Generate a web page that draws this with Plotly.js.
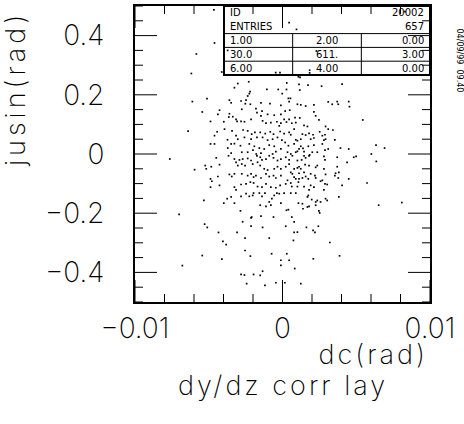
<!DOCTYPE html>
<html>
<head>
<meta charset="utf-8">
<script src="https://cdn.plot.ly/plotly-3.0.1.min.js"></script>
<style>
html,body{margin:0;padding:0;background:#fff;}
#chart{width:464px;height:424px;}
g.annotation[data-index="0"] text { letter-spacing: 4px; }
g.annotation[data-index="1"] text,
g.annotation[data-index="2"] text { letter-spacing: 3px; }
</style>
</head>
<body>
<div id="chart"></div>
<script>
// dc (rad) and jusin (rad) values, grouped by region
const dcTop = [-4.65e-3,-4.61e-3,-5.84e-3,-4.12e-3,-3.72e-3,0.45e-3,0.95e-3,2.30e-3,-0.46e-3,-0.17e-3,1.19e-3,1.84e-3,1.84e-3,8.30e-3];
const jsTop = [0.487,0.375,0.338,0.277,0.350,0.444,0.421,0.348,0.275,0.275,0.259,0.283,0.274,0.481];

const dcUL = [-6.18e-3,-3.03e-3,-2.29e-3,-3.26e-3,-2.20e-3,-2.25e-3,-2.36e-3,-0.29e-3,-0.02e-3,-1.06e-3,
  -5.12e-3,-6.11e-3,-3.60e-3,-3.48e-3,-2.81e-3,-2.47e-3,-2.18e-3,-2.52e-3,-1.46e-3,-0.85e-3,
  -0.11e-3,-5.44e-3,-4.27e-3,-4.38e-3,-3.60e-3,-3.64e-3,-2.76e-3,-1.80e-3,-1.73e-3,-1.39e-3,
  -1.46e-3,-1.01e-3,-0.56e-3,-0.11e-3,-4.88e-3,-3.98e-3,-3.37e-3,-3.15e-3,-3.08e-3,-2.81e-3,
  -2.58e-3,-2.13e-3,-1.35e-3,-1.12e-3,-0.79e-3,-0.38e-3,-0.11e-3,-0.22e-3,-6.40e-3,-4.43e-3,
  -3.93e-3,-3.42e-3,-2.67e-3,-2.36e-3,-2.09e-3,-1.87e-3,-1.51e-3,-1.17e-3,-0.83e-3,-0.61e-3,
  -0.16e-3,-4.61e-3,-3.73e-3,-3.15e-3,-3.03e-3,-2.58e-3,-2.13e-3,-1.73e-3,-1.35e-3,-1.01e-3,
  -0.67e-3,-0.34e-3,-0.04e-3,-4.88e-3,-4.61e-3,-3.48e-3,-3.26e-3,-3.71e-3,-2.85e-3,-2.25e-3,
  -1.91e-3,-2.00e-3,-1.57e-3,-1.24e-3,-0.90e-3,-0.56e-3,-0.11e-3,-3.48e-3,-2.76e-3,-2.36e-3,
  -1.78e-3,-1.46e-3,-0.67e-3,-0.45e-3];
const jsUL = [0.272,0.238,0.244,0.224,0.211,0.204,0.196,0.218,0.204,0.218,
  0.187,0.177,0.182,0.173,0.179,0.182,0.168,0.170,0.173,0.170,
  0.164,0.142,0.148,0.134,0.136,0.125,0.151,0.153,0.140,0.145,
  0.129,0.134,0.131,0.134,0.110,0.109,0.126,0.117,0.110,0.110,
  0.109,0.117,0.112,0.104,0.106,0.109,0.104,0.095,0.077,0.075,
  0.084,0.078,0.081,0.078,0.067,0.073,0.073,0.069,0.075,0.067,
  0.076,0.062,0.048,0.062,0.050,0.056,0.050,0.056,0.056,0.047,
  0.050,0.056,0.047,0.034,0.034,0.034,0.035,0.020,0.028,0.034,
  0.026,0.013,0.020,0.017,0.030,0.026,0.017,0.003,0.006,0.006,
  0.000,0.003,0.000,0.008];

const dcUR = [1.08e-3,0.29e-3,1.12e-3,1.73e-3,2.65e-3,4.04e-3,0.27e-3,1.17e-3,0.40e-3,0.54e-3,
  0.45e-3,1.01e-3,1.24e-3,1.57e-3,2.13e-3,3.10e-3,3.37e-3,3.71e-3,3.78e-3,4.49e-3,
  4.54e-3,0.18e-3,0.49e-3,2.13e-3,0.11e-3,0.45e-3,0.85e-3,1.17e-3,2.25e-3,2.47e-3,
  0.63e-3,0.90e-3,0.27e-3,5.44e-3,1.46e-3,1.69e-3,0.79e-3,2.92e-3,3.10e-3,3.42e-3,
  0.11e-3,0.45e-3,0.56e-3,1.35e-3,1.57e-3,1.80e-3,2.07e-3,2.52e-3,2.70e-3,2.88e-3,
  0.90e-3,1.01e-3,1.24e-3,1.91e-3,2.13e-3,2.81e-3,2.92e-3,3.55e-3,0.18e-3,0.40e-3,
  0.79e-3,1.24e-3,1.12e-3,1.39e-3,1.75e-3,2.13e-3,2.70e-3,2.88e-3,3.10e-3,3.93e-3,
  4.49e-3,6.34e-3,6.92e-3,0.34e-3,0.56e-3,0.90e-3,1.01e-3,1.46e-3,1.84e-3,2.02e-3,
  2.36e-3,2.81e-3,3.71e-3,4.83e-3,4.99e-3,6.02e-3];
const jsUR = [0.261,0.240,0.235,0.233,0.229,0.236,0.218,0.216,0.188,0.188,
  0.177,0.168,0.166,0.162,0.166,0.176,0.168,0.177,0.168,0.177,
  0.160,0.145,0.148,0.142,0.117,0.117,0.123,0.122,0.129,0.115,
  0.104,0.106,0.108,0.115,0.097,0.093,0.084,0.093,0.084,0.081,
  0.069,0.073,0.065,0.067,0.064,0.070,0.065,0.075,0.062,0.065,
  0.048,0.045,0.050,0.050,0.054,0.047,0.050,0.048,0.039,0.028,
  0.034,0.026,0.017,0.019,0.026,0.030,0.034,0.013,0.017,0.020,
  0.017,0.030,0.020,0.006,0.000,0.006,0.009,0.008,-0.003,0.006,
  0.006,-0.008,-0.011,-0.011,-0.008,0.000];

const dcLL = [-7.64e-3,-4.49e-3,-3.66e-3,-3.26e-3,-2.92e-3,-2.70e-3,-2.36e-3,-2.13e-3,-1.73e-3,-1.51e-3,-1.39e-3,-1.12e-3,-0.90e-3,-0.61e-3,-0.34e-3,-0.11e-3,
  -5.96e-3,-5.24e-3,-5.17e-3,-4.83e-3,-4.27e-3,-3.15e-3,-3.03e-3,-2.76e-3,-2.54e-3,-2.02e-3,-1.69e-3,-1.51e-3,-1.24e-3,-1.01e-3,-0.56e-3,-0.34e-3,-0.11e-3,
  -4.88e-3,-4.79e-3,-4.38e-3,-3.60e-3,-3.44e-3,-3.26e-3,-2.76e-3,-2.36e-3,-2.13e-3,-1.96e-3,-1.80e-3,-1.46e-3,-1.12e-3,-0.90e-3,-0.61e-3,-0.45e-3,-0.11e-3,
  -4.88e-3,-4.27e-3,-3.26e-3,-3.15e-3,-2.81e-3,-2.47e-3,-2.18e-3,-1.96e-3,-1.69e-3,-1.39e-3,-1.12e-3,-0.79e-3,-0.45e-3,-0.16e-3,
  -5.33e-3,-3.98e-3,-3.75e-3,-3.48e-3,-3.26e-3,-2.81e-3,-2.47e-3,-2.25e-3,-2.02e-3,-1.96e-3,-1.57e-3,-1.39e-3,-1.19e-3,-0.90e-3,-0.72e-3,-0.56e-3,-0.38e-3,-0.22e-3,-0.11e-3,-1.51e-3,-1.12e-3,-0.79e-3,
  -7.01e-3,-2.85e-3,-2.09e-3,-2.13e-3,-1.46e-3,-0.61e-3,
  -5.28e-3,-5.10e-3,-2.70e-3,-2.13e-3,-1.35e-3];
const jsLL = [-0.017,-0.013,-0.006,-0.017,-0.020,-0.017,-0.015,-0.022,-0.006,-0.011,-0.020,-0.017,-0.006,-0.013,-0.022,-0.017,
  -0.053,-0.039,-0.050,-0.043,-0.036,-0.028,-0.039,-0.034,-0.039,-0.034,-0.028,-0.039,-0.050,-0.054,-0.050,-0.043,-0.050,
  -0.084,-0.092,-0.076,-0.069,-0.076,-0.067,-0.067,-0.073,-0.067,-0.078,-0.073,-0.081,-0.067,-0.076,-0.073,-0.081,-0.073,
  -0.112,-0.106,-0.112,-0.121,-0.103,-0.101,-0.095,-0.098,-0.110,-0.112,-0.101,-0.112,-0.114,-0.106,
  -0.157,-0.166,-0.151,-0.145,-0.166,-0.143,-0.134,-0.143,-0.140,-0.132,-0.132,-0.143,-0.132,-0.162,-0.151,-0.140,-0.132,-0.134,-0.166,-0.173,-0.177,-0.173,
  -0.204,-0.192,-0.213,-0.216,-0.210,-0.213,
  -0.237,-0.248,-0.229,-0.244,-0.248];

const dcLR = [0.22e-3,0.67e-3,1.46e-3,1.57e-3,1.80e-3,1.30e-3,0.45e-3,1.01e-3,2.88e-3,4.38e-3,6.36e-3,
  0.45e-3,0.22e-3,0.79e-3,1.01e-3,1.12e-3,1.24e-3,1.80e-3,1.53e-3,2.25e-3,2.36e-3,2.81e-3,3.71e-3,3.82e-3,
  0.56e-3,0.67e-3,1.12e-3,1.46e-3,1.91e-3,2.20e-3,0.79e-3,0.90e-3,1.12e-3,1.35e-3,1.57e-3,1.75e-3,2.25e-3,3.60e-3,3.55e-3,3.78e-3,4.49e-3,2.92e-3,
  0.22e-3,0.34e-3,0.56e-3,1.08e-3,0.63e-3,1.01e-3,1.46e-3,1.91e-3,2.13e-3,1.80e-3,2.58e-3,2.70e-3,2.88e-3,3.03e-3,2.81e-3,4.04e-3,5.73e-3,
  0.11e-3,0.56e-3,0.90e-3,1.75e-3,1.69e-3,1.98e-3,2.36e-3,2.25e-3,2.58e-3,2.92e-3,3.03e-3,3.82e-3,
  1.08e-3,1.35e-3,1.80e-3,1.39e-3,1.69e-3,2.25e-3,2.47e-3,2.52e-3,6.52e-3,8.09e-3,
  0.27e-3,0.40e-3,0.63e-3,0.79e-3,0.22e-3,1.62e-3,2.43e-3];
const jsLR = [-0.011,-0.006,-0.006,-0.013,-0.006,-0.020,-0.020,-0.022,-0.020,-0.028,-0.025,
  -0.034,-0.043,-0.050,-0.047,-0.043,-0.050,-0.039,-0.036,-0.045,-0.039,-0.050,-0.043,-0.062,
  -0.062,-0.067,-0.065,-0.062,-0.067,-0.073,-0.078,-0.084,-0.084,-0.081,-0.076,-0.084,-0.081,-0.065,-0.073,-0.081,-0.084,-0.069,
  -0.101,-0.089,-0.098,-0.095,-0.110,-0.110,-0.110,-0.106,-0.112,-0.121,-0.092,-0.089,-0.101,-0.103,-0.121,-0.106,-0.098,
  -0.132,-0.132,-0.132,-0.140,-0.145,-0.154,-0.157,-0.162,-0.162,-0.151,-0.157,-0.145,
  -0.166,-0.168,-0.177,-0.185,-0.179,-0.173,-0.192,-0.199,-0.173,-0.164,
  -0.190,-0.188,-0.213,-0.229,-0.244,-0.248,-0.244];

const dcBot = [-4.34e-3,-3.08e-3,0.79e-3,1.01e-3,2.07e-3,2.20e-3,
  -4.04e-3,-3.82e-3,-2.54e-3,-0.90e-3,0.74e-3,3.21e-3,
  -2.54e-3,-5.44e-3,-4.11e-3,-2.18e-3,-0.74e-3,0.29e-3,-0.11e-3,0.45e-3,2.09e-3,3.87e-3,
  -6.79e-3,-0.11e-3,0.83e-3,-1.35e-3,
  -2.81e-3,-2.58e-3,-1.96e-3,-1.51e-3,
  -2.43e-3,-1.19e-3,-0.45e-3,0.16e-3,1.24e-3];
const jsBot = [-0.265,-0.265,-0.265,-0.264,-0.258,-0.265,
  -0.295,-0.306,-0.284,-0.284,-0.292,-0.299,
  -0.326,-0.343,-0.355,-0.345,-0.337,-0.337,-0.359,-0.359,-0.354,-0.344,
  -0.377,-0.376,-0.387,-0.396,
  -0.407,-0.409,-0.407,-0.410,
  -0.438,-0.444,-0.435,-0.435,-0.438];

// statistics box text
const statId = "20002";
const statEntries = "657";
const statRows = [["1.00","2.00","0.00"],["30.0","611.","3.00"],["6.00","4.00","0.00"]];
const dateText = "04/09/99  09.40";

const xTitle = "dc(rad)";
const yTitle = "jusin(rad)";
const plotTitle = "dy/dz corr lay";

const dcX = [].concat(dcTop, dcUL, dcUR, dcLL, dcLR, dcBot);
const jusY = [].concat(jsTop, jsUL, jsUR, jsLL, jsLR, jsBot);

const FONT = "Inter, DejaVu Sans";
const TFONT = "DejaVu Sans";
const L = 135, R = 430, T = 6, B = 302;
const px2x = p => (p - L) / (R - L);
const py2y = p => (B - p) / (B - T);

// axis tick settings (ticks drawn on all four sides, inside the frame)
const xTicks = {range:[-0.01, 0.01], major:0.01, minor:0.002, majorLen:22, minorLen:8};
const yTicks = {range:[-0.5, 0.5], major:0.2, minor:0.05, majorLen:22, minorLen:8};

// tick marks as a line trace in axis coordinates (lengths given in pixels, converted with the plot size)
function tickLines() {
  const xs = [], ys = [];
  const plotW = R - L, plotH = B - T;
  const xSpan = xTicks.range[1] - xTicks.range[0], ySpan = yTicks.range[1] - yTicks.range[0];
  const nx = Math.round(xSpan / xTicks.minor);
  for (let k = 0; k <= nx; k++) {
    const v = xTicks.range[0] + k * xTicks.minor;
    const major = Math.abs(v / xTicks.major - Math.round(v / xTicks.major)) < 1e-6;
    const d = (major ? xTicks.majorLen : xTicks.minorLen) / plotH * ySpan;
    xs.push(v, v, null, v, v, null);
    ys.push(yTicks.range[0], yTicks.range[0] + d, null, yTicks.range[1], yTicks.range[1] - d, null);
  }
  const ny = Math.round(ySpan / yTicks.minor);
  for (let k = 0; k <= ny; k++) {
    const v = yTicks.range[0] + k * yTicks.minor;
    const major = Math.abs(v / yTicks.major - Math.round(v / yTicks.major)) < 1e-6;
    const d = (major ? yTicks.majorLen : yTicks.minorLen) / plotW * xSpan;
    xs.push(xTicks.range[0], xTicks.range[0] + d, null, xTicks.range[1], xTicks.range[1] - d, null);
    ys.push(v, v, null, v, v, null);
  }
  return {type:'scatter', mode:'lines', x:xs, y:ys, connectgaps:false,
          line:{color:'#000', width:1}, hoverinfo:'skip', showlegend:false};
}

const trace = {
  type: 'scatter', mode: 'markers', x: dcX, y: jusY,
  marker: {size: 1.7, color: '#000', symbol: 'square'}, showlegend:false
};

const bigFont = {family:FONT, size:27, color:'#000', weight:200};
const ann = [
  {text: yTitle, xref:'paper', yref:'paper', x: px2x(16), y: py2y(89), xanchor:'center', yanchor:'middle',
   textangle:-90, showarrow:false, font:bigFont},
  {text: xTitle, xref:'paper', yref:'paper', x: px2x(373), y: py2y(354), xanchor:'center', yanchor:'middle',
   showarrow:false, font:bigFont},
  {text: plotTitle, xref:'paper', yref:'paper', x: px2x(283), y: py2y(385), xanchor:'center', yanchor:'middle',
   showarrow:false, font:bigFont}
];
// date at right edge
ann.push({text: dateText, xref:'paper', yref:'paper', x: px2x(453), y: py2y(60), xanchor:'left', yanchor:'middle',
  textangle:90, showarrow:false, font:{family:TFONT, size:8, color:'#000'}});

// stats box
const bx0 = 224, bx1 = 430, by0 = 6, rowH = 13.8;
const tf = {family: TFONT, size: 10, color: '#000'};
const rowC = i => by0 + rowH * (i + 0.5);
ann.push({text:'ID', xref:'paper', yref:'paper', x:px2x(228), y:py2y(rowC(0)), xanchor:'left', yanchor:'middle', showarrow:false, font:tf});
ann.push({text:statId, xref:'paper', yref:'paper', x:px2x(426), y:py2y(rowC(0)), xanchor:'right', yanchor:'middle', showarrow:false, font:tf});
ann.push({text:'ENTRIES', xref:'paper', yref:'paper', x:px2x(228), y:py2y(rowC(1)), xanchor:'left', yanchor:'middle', showarrow:false, font:tf});
ann.push({text:statEntries, xref:'paper', yref:'paper', x:px2x(426), y:py2y(rowC(1)), xanchor:'right', yanchor:'middle', showarrow:false, font:tf});
const c1 = bx0 + (bx1 - bx0) / 3, c2 = bx0 + 2 * (bx1 - bx0) / 3;
statRows.forEach((r, i) => {
  const yy = py2y(rowC(i + 2));
  ann.push({text:r[0], xref:'paper', yref:'paper', x:px2x(228), y:yy, xanchor:'left', yanchor:'middle', showarrow:false, font:tf});
  ann.push({text:r[1], xref:'paper', yref:'paper', x:px2x((c1 + c2) / 2), y:yy, xanchor:'center', yanchor:'middle', showarrow:false, font:tf});
  ann.push({text:r[2], xref:'paper', yref:'paper', x:px2x(426), y:yy, xanchor:'right', yanchor:'middle', showarrow:false, font:tf});
});
const shp = [];
const by5 = by0 + rowH * 5;
shp.push({type:'rect', xref:'paper', yref:'paper', x0:px2x(bx0), x1:px2x(bx1), y0:py2y(by5), y1:py2y(by0), line:{color:'#000', width:2}});
[2, 3, 4].forEach(i => {
  const yy = py2y(by0 + rowH * i);
  shp.push({type:'line', xref:'paper', yref:'paper', x0:px2x(bx0), x1:px2x(bx1), y0:yy, y1:yy, line:{color:'#000', width:1}});
});
[c1, c2].forEach(c => {
  shp.push({type:'line', xref:'paper', yref:'paper', x0:px2x(c), x1:px2x(c), y0:py2y(by5), y1:py2y(by0 + rowH * 2), line:{color:'#000', width:1}});
});

const layout = {
  width:464, height:424,
  margin:{l:L, r:464 - R, t:T, b:424 - B, pad:0},
  xaxis: {
    range:xTicks.range, tickmode:'linear', tick0:0, dtick:xTicks.major,
    showgrid:false, zeroline:false, showline:true, linecolor:'#000', linewidth:2, mirror:true,
    ticks:'', tickfont:{family:FONT, size:28, color:'#000', weight:200}
  },
  yaxis: {
    range:yTicks.range, tickmode:'linear', tick0:0, dtick:yTicks.major,
    showgrid:false, zeroline:false, showline:true, linecolor:'#000', linewidth:2, mirror:true,
    ticks:'', tickfont:{family:FONT, size:28, color:'#000', weight:200},
    ticklabelstandoff:23
  },
  annotations: ann,
  shapes: shp,
  showlegend:false
};

Plotly.newPlot('chart', [tickLines(), trace], layout, {staticPlot:true, displayModeBar:false});
</script>
</body>
</html>
